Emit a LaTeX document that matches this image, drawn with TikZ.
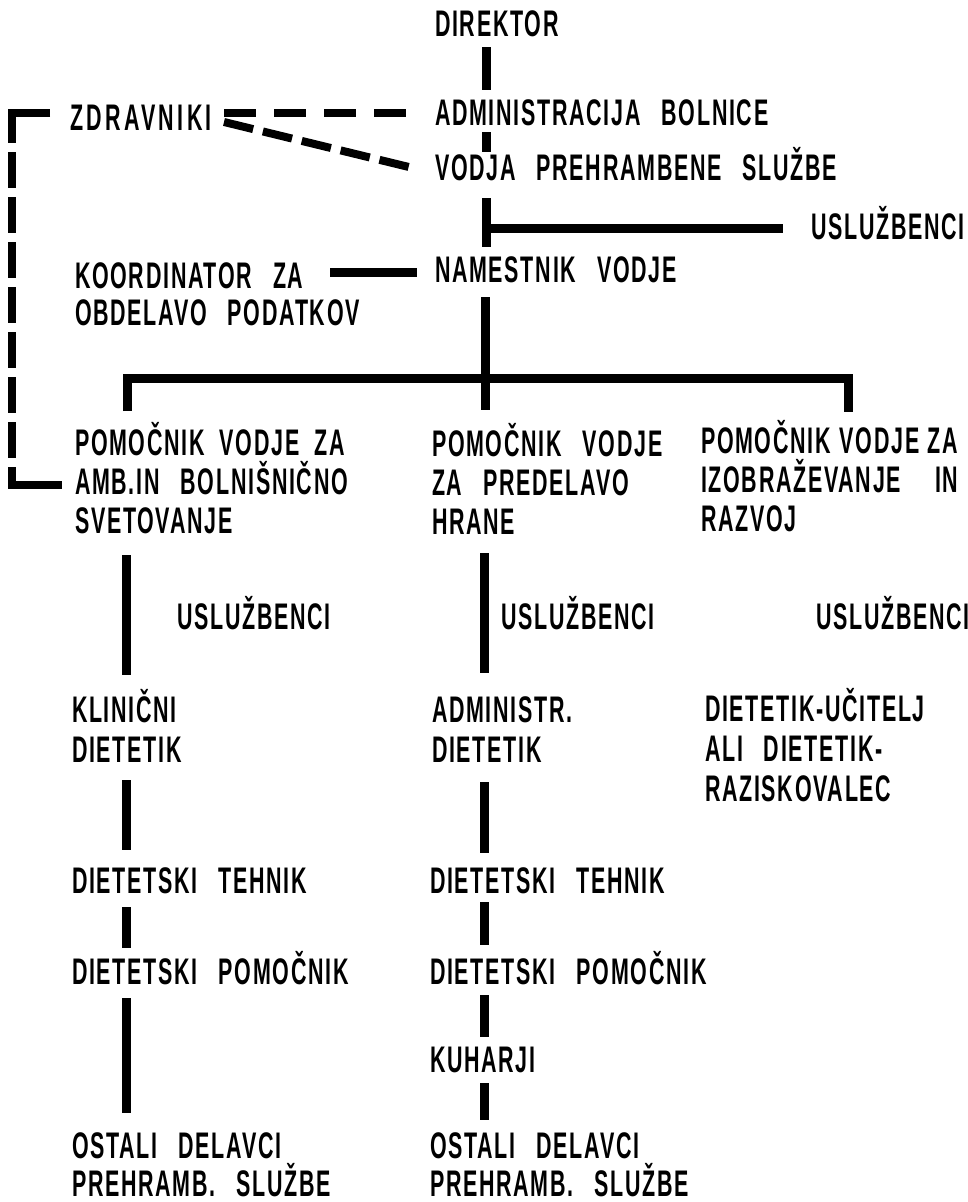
\documentclass[tikz,border=0pt]{standalone}
\usepackage{fontspec}
\newfontfamily\chartfont[FakeStretch=0.58,LetterSpace=4.6]{Liberation Sans Bold}
\newfontfamily\chartfontwide[FakeStretch=0.58,LetterSpace=9]{Liberation Sans Bold}
\newcommand\chartsize[1]{\chartfont\fontsize{37}{#1}\selectfont\spaceskip=21pt plus 0pt minus 0pt\xspaceskip=\spaceskip}
\begin{document}
\begin{tikzpicture}[x=1pt,y=-1pt,
  lbl/.style={inner sep=0pt,outer sep=0pt,anchor=south west,align=left,
    font={\chartsize{39}}},
  ln/.style={line width=9pt},
  dsh/.style={line width=8pt,dash pattern=on 32pt off 18pt},
  dslant/.style={line width=8pt,dash pattern=on 30pt off 10pt},
  dvert/.style={line width=8pt,dash pattern=on 36pt off 9pt}]
\useasboundingbox (0,0) rectangle (968,1202);
% ---- nodes ----
\node[lbl] (dir) at (435,37) {DIREKTOR};
\node[lbl] (adm) at (435,126) {ADMINISTRACIJA BOLNICE};
\node[lbl] (vod) at (435,181) {VODJA PREHRAMBENE SLUŽBE};
\node[lbl] (usl0) at (811,240) {USLUŽBENCI};
\node[lbl] (nam) at (435,283) {NAMESTNIK VODJE};
\node[lbl,font={\chartsize{37}}] (koo) at (75,326) {KOORDINATOR ZA\\OBDELAVO PODATKOV};
\node[lbl,font={\chartfontwide\fontsize{37}{39}\selectfont}] (zdr) at (70,130) {ZDRAVNIKI};
\node[lbl] (pa) at (75,534) {POMOČNIK\hspace{15pt}VODJE\hspace{15pt}ZA\\AMB.IN BOLNIŠNIČNO\\SVETOVANJE};
\node[lbl] (pb) at (432,534) {POMOČNIK VODJE\\ZA PREDELAVO\\HRANE};
\node[lbl] (pc) at (701,532) {POMOČNIK\hspace{9pt}VODJE\hspace{8pt}ZA\\IZOBRAŽEVANJE\hspace{34pt}IN\\RAZVOJ};
\node[lbl] (ua) at (177,630) {USLUŽBENCI};
\node[lbl] (ub) at (501,630) {USLUŽBENCI};
\node[lbl] (uc) at (816,630) {USLUŽBENCI};
\node[lbl,font={\chartsize{40}}] (ka) at (72,762) {KLINIČNI\\DIETETIK};
\node[lbl,font={\chartsize{40}}] (kb) at (432,762) {ADMINISTR.\\DIETETIK};
\node[lbl,font={\chartsize{40}}] (kc) at (705,802) {DIETETIK-UČITELJ\\ALI DIETETIK-\\RAZISKOVALEC};
\node[lbl] (ta) at (72,894) {DIETETSKI TEHNIK};
\node[lbl] (tb) at (430,894) {DIETETSKI TEHNIK};
\node[lbl] (ma) at (72,985) {DIETETSKI POMOČNIK};
\node[lbl] (mb) at (430,985) {DIETETSKI POMOČNIK};
\node[lbl] (kuh) at (430,1073) {KUHARJI};
\node[lbl,font={\chartsize{38}}] (oa) at (72,1197) {OSTALI DELAVCI\\PREHRAMB. SLUŽBE};
\node[lbl,font={\chartsize{38}}] (ob) at (430,1197) {OSTALI DELAVCI\\PREHRAMB. SLUŽBE};
% ---- connector points ----
\coordinate (c1a) at (486,47);  \coordinate (c1b) at (486,90);
\coordinate (c2a) at (486,132); \coordinate (c2b) at (486,152);
\coordinate (c3a) at (486,198); \coordinate (c3b) at (486,247);
\coordinate (br0) at (486,228); \coordinate (br1) at (783,228);
\coordinate (k0) at (330,272);  \coordinate (k1) at (417,272);
\coordinate (c4a) at (485,297); \coordinate (c4b) at (485,410);
\coordinate (tl) at (127,411); \coordinate (tr) at (848,412);
\coordinate (z1) at (224,113); \coordinate (z2) at (408,113);
\coordinate (z3) at (224,122); \coordinate (z4) at (413,168);
% ---- connectors ----
\draw[ln] (c1a) -- (c1b);
\draw[ln] (c2a) -- (c2b);
\draw[ln] (c3a) -- (c3b);
\draw[ln] (br0) -- (br1);
\draw[ln] (k0) -- (k1);
\draw[ln] (c4a) -- (c4b);
\draw[ln,line join=miter] (tl) -- (127,378) -- (848,378) -- (tr);
\draw[dsh] (z1) -- (z2);
\draw[dslant] (z3) -- (z4);
% bracket
\draw[line width=8pt,line join=miter] (50,113) -- (12,113) -- (12,143);
\draw[dvert] (12,152) -- (12,458);
\draw[line width=8pt,line join=miter] (12,467) -- (12,485) -- (62,485);
% column 1
\draw[ln] (126,555) -- (126,675);
\draw[ln] (126,780) -- (126,850);
\draw[ln] (126,907) -- (126,948);
\draw[ln] (126,998) -- (126,1113);
% column 2
\draw[ln] (484,553) -- (484,673);
\draw[ln] (484,782) -- (484,853);
\draw[ln] (484,902) -- (484,945);
\draw[ln] (484,995) -- (484,1037);
\draw[ln] (484,1083) -- (484,1120);
\end{tikzpicture}
\end{document}
